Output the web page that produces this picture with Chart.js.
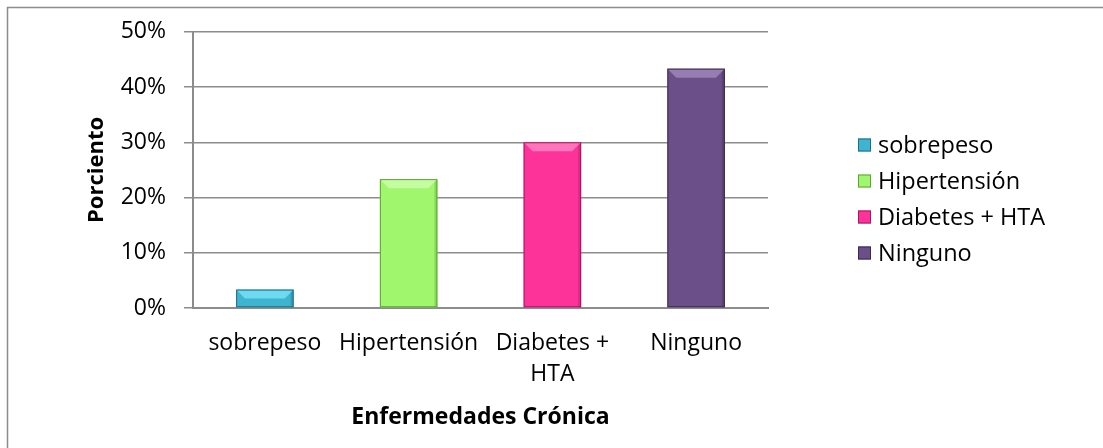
<!DOCTYPE html>
<html>
<head>
<meta charset="utf-8">
<script src="https://cdn.jsdelivr.net/npm/chart.js@4/dist/chart.umd.min.js"></script>
<style>
html,body{margin:0;padding:0;background:#fff;overflow:hidden;}
#wrap{position:absolute;left:0;top:0;width:1103px;height:448px;}
</style>
</head>
<body>
<div id="wrap"><canvas id="c" width="1103" height="448"></canvas></div>
<script>
const categories = ["sobrepeso", "Hipertensión", ["Diabetes +", "HTA"], "Ninguno"];
const legendNames = ["sobrepeso", "Hipertensión", "Diabetes + HTA", "Ninguno"];
const percentValues = [3.33, 23.33, 30.0, 43.33];
const yTickValues = [0, 10, 20, 30, 40, 50];
const barColors = ["#3fb4d0", "#a0f66c", "#fe3399", "#6a4f88"];
const barEdgeColors = ["#1f6f82", "#5aa632", "#a81560", "#3b2a4f"];
const barLightColors = ["#7fe6fb", "#d0ffb0", "#ff8cc8", "#a58cc0"];
const FONT = "'Open Sans', Lato, sans-serif";
const FS = 23;

const bgPlugin = {
  id: 'bg',
  beforeDraw(chart) {
    const ctx = chart.ctx;
    ctx.save();
    ctx.fillStyle = '#fff';
    ctx.fillRect(0, 0, chart.width, chart.height);
    ctx.strokeStyle = '#8c8c8c';
    ctx.lineWidth = 1.5;
    ctx.strokeRect(7.5, 7.5, 1110, 460);
    ctx.restore();
  }
};

const bevelPlugin = {
  id: 'bevel',
  afterDatasetsDraw(chart) {
    const ctx = chart.ctx;
    const meta = chart.getDatasetMeta(0);
    meta.data.forEach((bar, i) => {
      const p = bar.getProps(['x', 'y', 'base', 'width'], true);
      const l = p.x - p.width / 2, r = p.x + p.width / 2, t = p.y, b = p.base;
      const h = b - t;
      const bv = Math.min(9, h / 2);
      ctx.save();
      ctx.beginPath();
      ctx.moveTo(l, t); ctx.lineTo(r, t); ctx.lineTo(r - bv, t + bv); ctx.lineTo(l + bv, t + bv); ctx.closePath();
      ctx.fillStyle = barLightColors[i];
      ctx.globalAlpha = 0.75;
      ctx.fill();
      ctx.globalAlpha = 0.35;
      ctx.beginPath();
      ctx.moveTo(r, t); ctx.lineTo(r, b); ctx.lineTo(r - 3, b); ctx.lineTo(r - 3, t + 3); ctx.closePath();
      ctx.fillStyle = barEdgeColors[i];
      ctx.fill();
      ctx.globalAlpha = 1;
      ctx.strokeStyle = barEdgeColors[i];
      ctx.lineWidth = 1;
      ctx.strokeRect(l + 0.5, t + 0.5, p.width - 1, h - 1);
      ctx.restore();
    });
  }
};

const legendPlugin = {
  id: 'customLegend',
  afterDraw(chart) {
    const ctx = chart.ctx;
    const x0 = 858, y0 = 145, step = 36, box = 13;
    ctx.save();
    ctx.font = "23.5px " + FONT;
    ctx.textBaseline = 'middle';
    legendNames.forEach((n, i) => {
      const y = y0 + i * step;
      ctx.fillStyle = barColors[i];
      ctx.fillRect(x0, y - box / 2, box, box);
      ctx.strokeStyle = barEdgeColors[i];
      ctx.lineWidth = 1;
      ctx.strokeRect(x0 + 0.5, y - box / 2 + 0.5, box - 1, box - 1);
      ctx.fillStyle = '#000';
      ctx.fillText(n, x0 + 20, y + 1);
    });
    ctx.restore();
  }
};

new Chart(document.getElementById('c'), {
  type: 'bar',
  data: {
    labels: categories,
    datasets: [{
      data: percentValues,
      backgroundColor: barColors,
      borderWidth: 0,
      categoryPercentage: 0.8,
      barPercentage: 0.5
    }]
  },
  options: {
    responsive: false,
    animation: false,
    devicePixelRatio: 1,
    layout: { padding: { left: 80, top: 28, right: 335, bottom: 13 } },
    plugins: {
      tooltip: { enabled: false },
      legend: { display: false }
    },
    scales: {
      x: {
        grid: { display: false, drawTicks: false },
        border: { display: true, color: '#8c8c8c', width: 2 },
        ticks: { font: { family: FONT, size: FS, lineHeight: 1.35 }, color: '#000', padding: 20, maxRotation: 0, autoSkip: false },
        title: { display: true, text: 'Enfermedades Crónica', font: { family: FONT, size: 23, weight: 'bold' }, color: '#000', padding: { top: 14 } },
        afterFit(s) { s.height = 127; }
      },
      y: {
        min: 0, max: 50,
        afterBuildTicks(s) { s.ticks = yTickValues.map(v => ({ value: v })); },
        grid: { color: '#8c8c8c', lineWidth: 1.5, tickLength: 9, tickColor: '#8c8c8c' },
        border: { display: true, color: '#8c8c8c', width: 2 },
        ticks: { font: { family: FONT, size: FS }, color: '#000', padding: 18, callback: v => v + '%' },
        title: { display: true, text: 'Porciento', font: { family: FONT, size: 22, weight: 'bold' }, color: '#000' },
        afterFit(s) { s.width = 113; }
      }
    }
  },
  plugins: [bgPlugin, bevelPlugin, legendPlugin]
});
</script>
</body>
</html>
